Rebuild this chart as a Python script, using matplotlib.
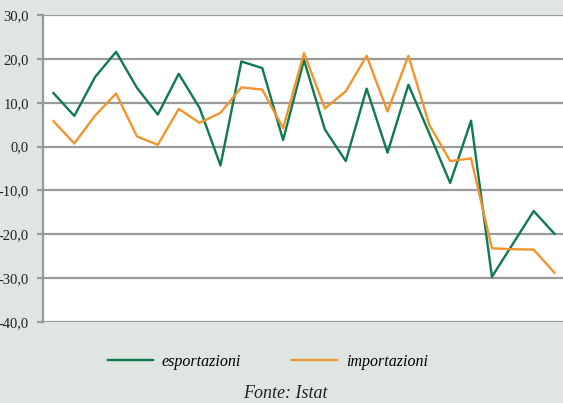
import matplotlib
matplotlib.use("Agg")
from matplotlib import pyplot as plt

# monthly change (%), 25 periods
esportazioni = [12.2, 7.0, 15.9, 21.6, 13.4, 7.3, 16.6, 8.8, -4.3, 19.4,
                17.9, 1.5, 19.7, 3.9, -3.3, 13.2, -1.4, 14.1, 3.0, -8.3,
                5.9, -29.7, -22.2, -14.7, -19.9]
importazioni = [5.8, 0.7, 7.1, 12.1, 2.3, 0.4, 8.6, 5.4, 7.7, 13.5,
                13.0, 4.2, 21.3, 8.7, 12.6, 20.7, 8.0, 20.7, 5.0, -3.3,
                -2.7, -23.2, -23.4, -23.5, -28.8]
y_ticks = [30, 20, 10, 0, -10, -20, -30, -40]

bg = '#dfe5e1'
green = '#0f7a4e'
orange = '#f0952e'
grid_c = '#9a9a9a'

plt.rcParams['font.family'] = ['Liberation Serif', 'DejaVu Serif']

fig = plt.figure(figsize=(5.63, 4.03), dpi=100, facecolor=bg)
ax = fig.add_axes([43 / 563, 1 - 322 / 403, 522 / 563, (322 - 15) / 403])
ax.set_facecolor('white')

x = list(range(len(esportazioni)))
ax.plot(x, esportazioni, color=green, lw=1.7, label='esportazioni')
ax.plot(x, importazioni, color=orange, lw=1.7, label='importazioni')

ax.set_xlim(-0.5, len(x) - 0.5)
ax.set_ylim(-40, 30)
ax.set_yticks(y_ticks)
ax.set_yticklabels([f"{v:.1f}".replace('.', ',') for v in y_ticks])
for v in y_ticks:
    ax.axhline(v, color=grid_c, lw=1.6, zorder=0)

ax.set_xticks([])
for s in ['top', 'right', 'bottom']:
    ax.spines[s].set_visible(False)
ax.spines['left'].set_color(grid_c)
ax.spines['left'].set_linewidth(1.6)
ax.tick_params(axis='y', colors=grid_c, length=4, width=1.6, pad=6,
               labelsize=10.5, labelcolor='#222222')

fig.legend(loc='center', bbox_to_anchor=(268 / 563, 1 - 362 / 403), ncol=2,
           frameon=False, handlelength=2.8, handletextpad=0.55,
           columnspacing=3.2, prop={'style': 'italic', 'size': 11.5})
fig.text(285 / 563, 1 - 393 / 403, 'Fonte: Istat', ha='center', va='center',
         style='italic', fontsize=13, color='#222222')

fig.savefig('out.png', dpi=100, facecolor=bg)
